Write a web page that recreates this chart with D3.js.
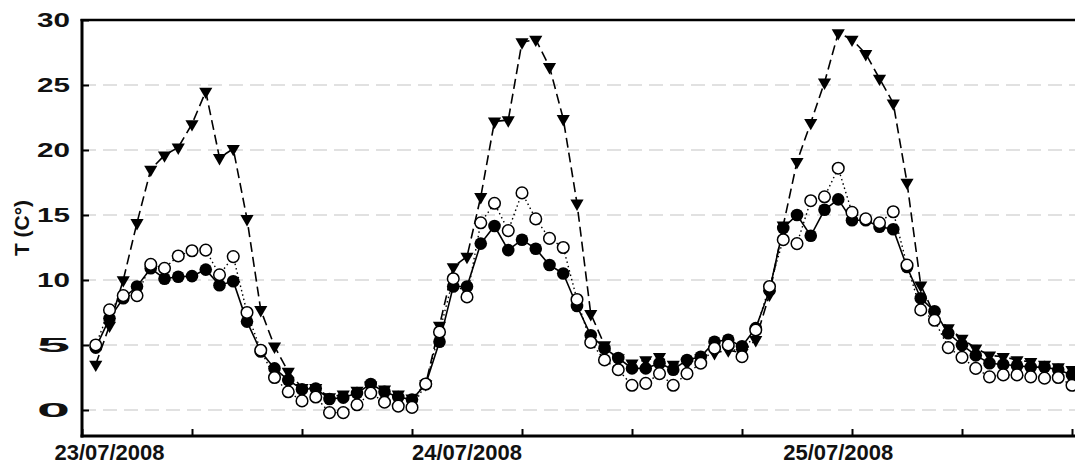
<!DOCTYPE html>
<html>
<head>
<meta charset="utf-8">
<script src="https://cdn.jsdelivr.net/npm/d3@7"></script>
<style>
  body { margin: 0; background: #fff; }
  svg { display: block; font-family: "Liberation Sans", Arial, sans-serif; }
  .grid line { stroke: #c4c4c4; stroke-width: 1.2; stroke-dasharray: 14,7; }
</style>
</head>
<body>
<script>
// hourly readings, 23/07/2008 01:00 -> 26/07/2008 00:00
var hours = d3.range(1, 73);

var triangleSeries = [3.5, 6.5, 10.0, 14.4, 18.5, 19.6, 20.2, 22.0, 24.5, 19.4, 20.1, 14.7,
  7.7, 4.9, 2.95, 1.7, 1.7, 1.0, 1.2, 1.5, 1.9, 1.6, 1.2, 0.9,
  2.0, 6.5, 11.0, 11.8, 16.4, 22.2, 22.3, 28.3, 28.5, 26.4, 22.4, 15.9,
  7.4, 5.0, 4.0, 3.6, 3.85, 4.1, 3.5, 3.6, 4.0, 4.4, 4.6, 4.4,
  5.4, 8.9, 14.2, 19.1, 22.1, 25.2, 29.0, 28.5, 27.4, 25.5, 23.6, 17.5,
  9.6, 7.3, 6.3, 5.5, 4.75, 4.2, 4.1, 3.85, 3.7, 3.5, 3.3, 3.1];

var filledSeries = [4.8, 7.05, 8.6, 9.5, 10.9, 10.1, 10.25, 10.3, 10.8, 9.6, 9.9, 6.8,
  4.5, 3.2, 2.3, 1.6, 1.65, 0.85, 0.95, 1.3, 2.0, 1.4, 1.0, 0.8,
  2.0, 5.25, 9.5, 9.5, 12.8, 14.15, 12.3, 13.1, 12.4, 11.15, 10.5, 8.0,
  5.75, 4.75, 4.0, 3.2, 3.2, 3.6, 3.1, 3.85, 4.1, 5.25, 5.4, 4.9,
  6.3, 9.2, 14.0, 15.0, 13.4, 15.4, 16.2, 14.6, 14.6, 14.1, 13.9, 11.0,
  8.6, 7.6, 5.9, 5.0, 4.2, 3.6, 3.5, 3.4, 3.3, 3.3, 3.1, 2.7];

var openSeries = [5.0, 7.7, 8.8, 8.8, 11.2, 10.9, 11.85, 12.25, 12.3, 10.4, 11.8, 7.5,
  4.6, 2.5, 1.4, 0.7, 1.0, -0.2, -0.2, 0.4, 1.3, 0.6, 0.3, 0.2,
  2.0, 6.0, 10.1, 8.7, 14.4, 15.9, 13.8, 16.7, 14.7, 13.2, 12.5, 8.5,
  5.2, 3.85, 3.1, 1.9, 2.05, 2.8, 1.9, 2.8, 3.6, 4.75, 5.0, 4.1,
  6.15, 9.5, 13.1, 12.8, 16.1, 16.4, 18.6, 15.2, 14.7, 14.4, 15.25, 11.15,
  7.7, 6.9, 4.8, 4.05, 3.2, 2.55, 2.7, 2.7, 2.55, 2.45, 2.5, 1.9];

var yTicks = [0, 5, 10, 15, 20, 25, 30];
var xTickHours = d3.range(0, 73, 8);
var dateLabels = ["23/07/2008", "24/07/2008", "25/07/2008"];
var dateLabelHours = [2.4, 28.9, 55.4];

var svgWidth = 1075;
var svgHeight = 466;
var margin = {top: 20, right: 3, bottom: 30, left: 82};
var width = 1072 - margin.left;
var height = svgHeight - margin.top - margin.bottom;

var start = new Date(2008, 6, 23, 0);
var hourDate = h => d3.timeHour.offset(start, h);

var svg = d3.select("body").append("svg")
  .attr("width", svgWidth)
  .attr("height", svgHeight);

var chartGroup = svg.append("g")
  .attr("transform", `translate(${margin.left}, ${margin.top})`);

var xTimeScale = d3.scaleTime()
  .domain([start, hourDate(72)])
  .range([0, width]);
var yLinearScale = d3.scaleLinear()
  .domain([-2, 30])
  .range([height, 0]);

// dashed grid
chartGroup.append("g")
  .attr("class", "grid")
  .selectAll("line")
  .data(yTicks.filter(v => v < 30))
  .join("line")
  .attr("x1", 0)
  .attr("x2", svgWidth - margin.left)
  .attr("y1", d => yLinearScale(d))
  .attr("y2", d => yLinearScale(d));

// y axis with inner ticks
var leftAxis = d3.axisLeft(yLinearScale)
  .tickValues(yTicks)
  .tickSize(-7)
  .tickPadding(12);
var yAxis = chartGroup.append("g").call(leftAxis);
yAxis.select(".domain").remove();
yAxis.selectAll(".tick line").attr("stroke", "#000").attr("stroke-width", 2);
yAxis.selectAll("text")
  .attr("font-size", 21)
  .attr("font-weight", "bold")
  .attr("fill", "#111")
  .attr("textLength", 33)
  .attr("lengthAdjust", "spacingAndGlyphs");

// x axis: ticks every 8 hours, pointing up
var bottomAxis = d3.axisBottom(xTimeScale)
  .tickValues(xTickHours.map(hourDate))
  .tickSize(-7)
  .tickFormat("");
var xAxis = chartGroup.append("g")
  .attr("transform", `translate(0, ${height})`)
  .call(bottomAxis);
xAxis.select(".domain").remove();
xAxis.selectAll(".tick line").attr("stroke", "#000").attr("stroke-width", 2);

chartGroup.append("g")
  .selectAll("text")
  .data(dateLabels)
  .join("text")
  .attr("x", (d, i) => xTimeScale(hourDate(dateLabelHours[i])))
  .attr("y", height + 24)
  .attr("text-anchor", "middle")
  .attr("font-size", 22)
  .attr("font-weight", "bold")
  .attr("fill", "#111")
  .text(d => d);

// frame: left, bottom, top
chartGroup.append("line")
  .attr("x1", 0).attr("x2", 0).attr("y1", -1).attr("y2", height + 1.5)
  .attr("stroke", "#000").attr("stroke-width", 3);
chartGroup.append("line")
  .attr("x1", -1.5).attr("x2", svgWidth - margin.left).attr("y1", height).attr("y2", height)
  .attr("stroke", "#000").attr("stroke-width", 3);
chartGroup.append("line")
  .attr("x1", -1.5).attr("x2", svgWidth - margin.left).attr("y1", 0).attr("y2", 0)
  .attr("stroke", "#000").attr("stroke-width", 2.5);

// axis title
svg.append("text")
  .attr("transform", `translate(29, ${margin.top + height / 2}) rotate(-90)`)
  .attr("text-anchor", "middle")
  .attr("font-size", 21)
  .attr("font-weight", "bold")
  .attr("fill", "#111")
  .text("T (C°)");

// series
function rows(values) {
  return hours.map((h, i) => ({date: hourDate(h), value: values[i]}));
}

var line = d3.line()
  .x(d => xTimeScale(d.date))
  .y(d => yLinearScale(d.value));

var triData = rows(triangleSeries);
var filledData = rows(filledSeries);
var openData = rows(openSeries);

chartGroup.append("path")
  .attr("d", line(triData))
  .attr("fill", "none").attr("stroke", "#000")
  .attr("stroke-width", 1.6).attr("stroke-dasharray", "10,5");
chartGroup.append("g")
  .selectAll("path")
  .data(triData)
  .join("path")
  .attr("d", d3.symbol(d3.symbolTriangle, 75))
  .attr("transform", d => `translate(${xTimeScale(d.date)}, ${yLinearScale(d.value)}) rotate(180)`)
  .attr("fill", "#000");

chartGroup.append("path")
  .attr("d", line(filledData))
  .attr("fill", "none").attr("stroke", "#000")
  .attr("stroke-width", 1.6);
chartGroup.append("g")
  .selectAll("circle")
  .data(filledData)
  .join("circle")
  .attr("cx", d => xTimeScale(d.date))
  .attr("cy", d => yLinearScale(d.value))
  .attr("r", 6.3)
  .attr("fill", "#000");

chartGroup.append("path")
  .attr("d", line(openData))
  .attr("fill", "none").attr("stroke", "#000")
  .attr("stroke-width", 1.4).attr("stroke-dasharray", "1.5,3");
chartGroup.append("g")
  .selectAll("circle")
  .data(openData)
  .join("circle")
  .attr("cx", d => xTimeScale(d.date))
  .attr("cy", d => yLinearScale(d.value))
  .attr("r", 5.8)
  .attr("fill", "#fff")
  .attr("stroke", "#000")
  .attr("stroke-width", 1.5);
</script>
</body>
</html>
